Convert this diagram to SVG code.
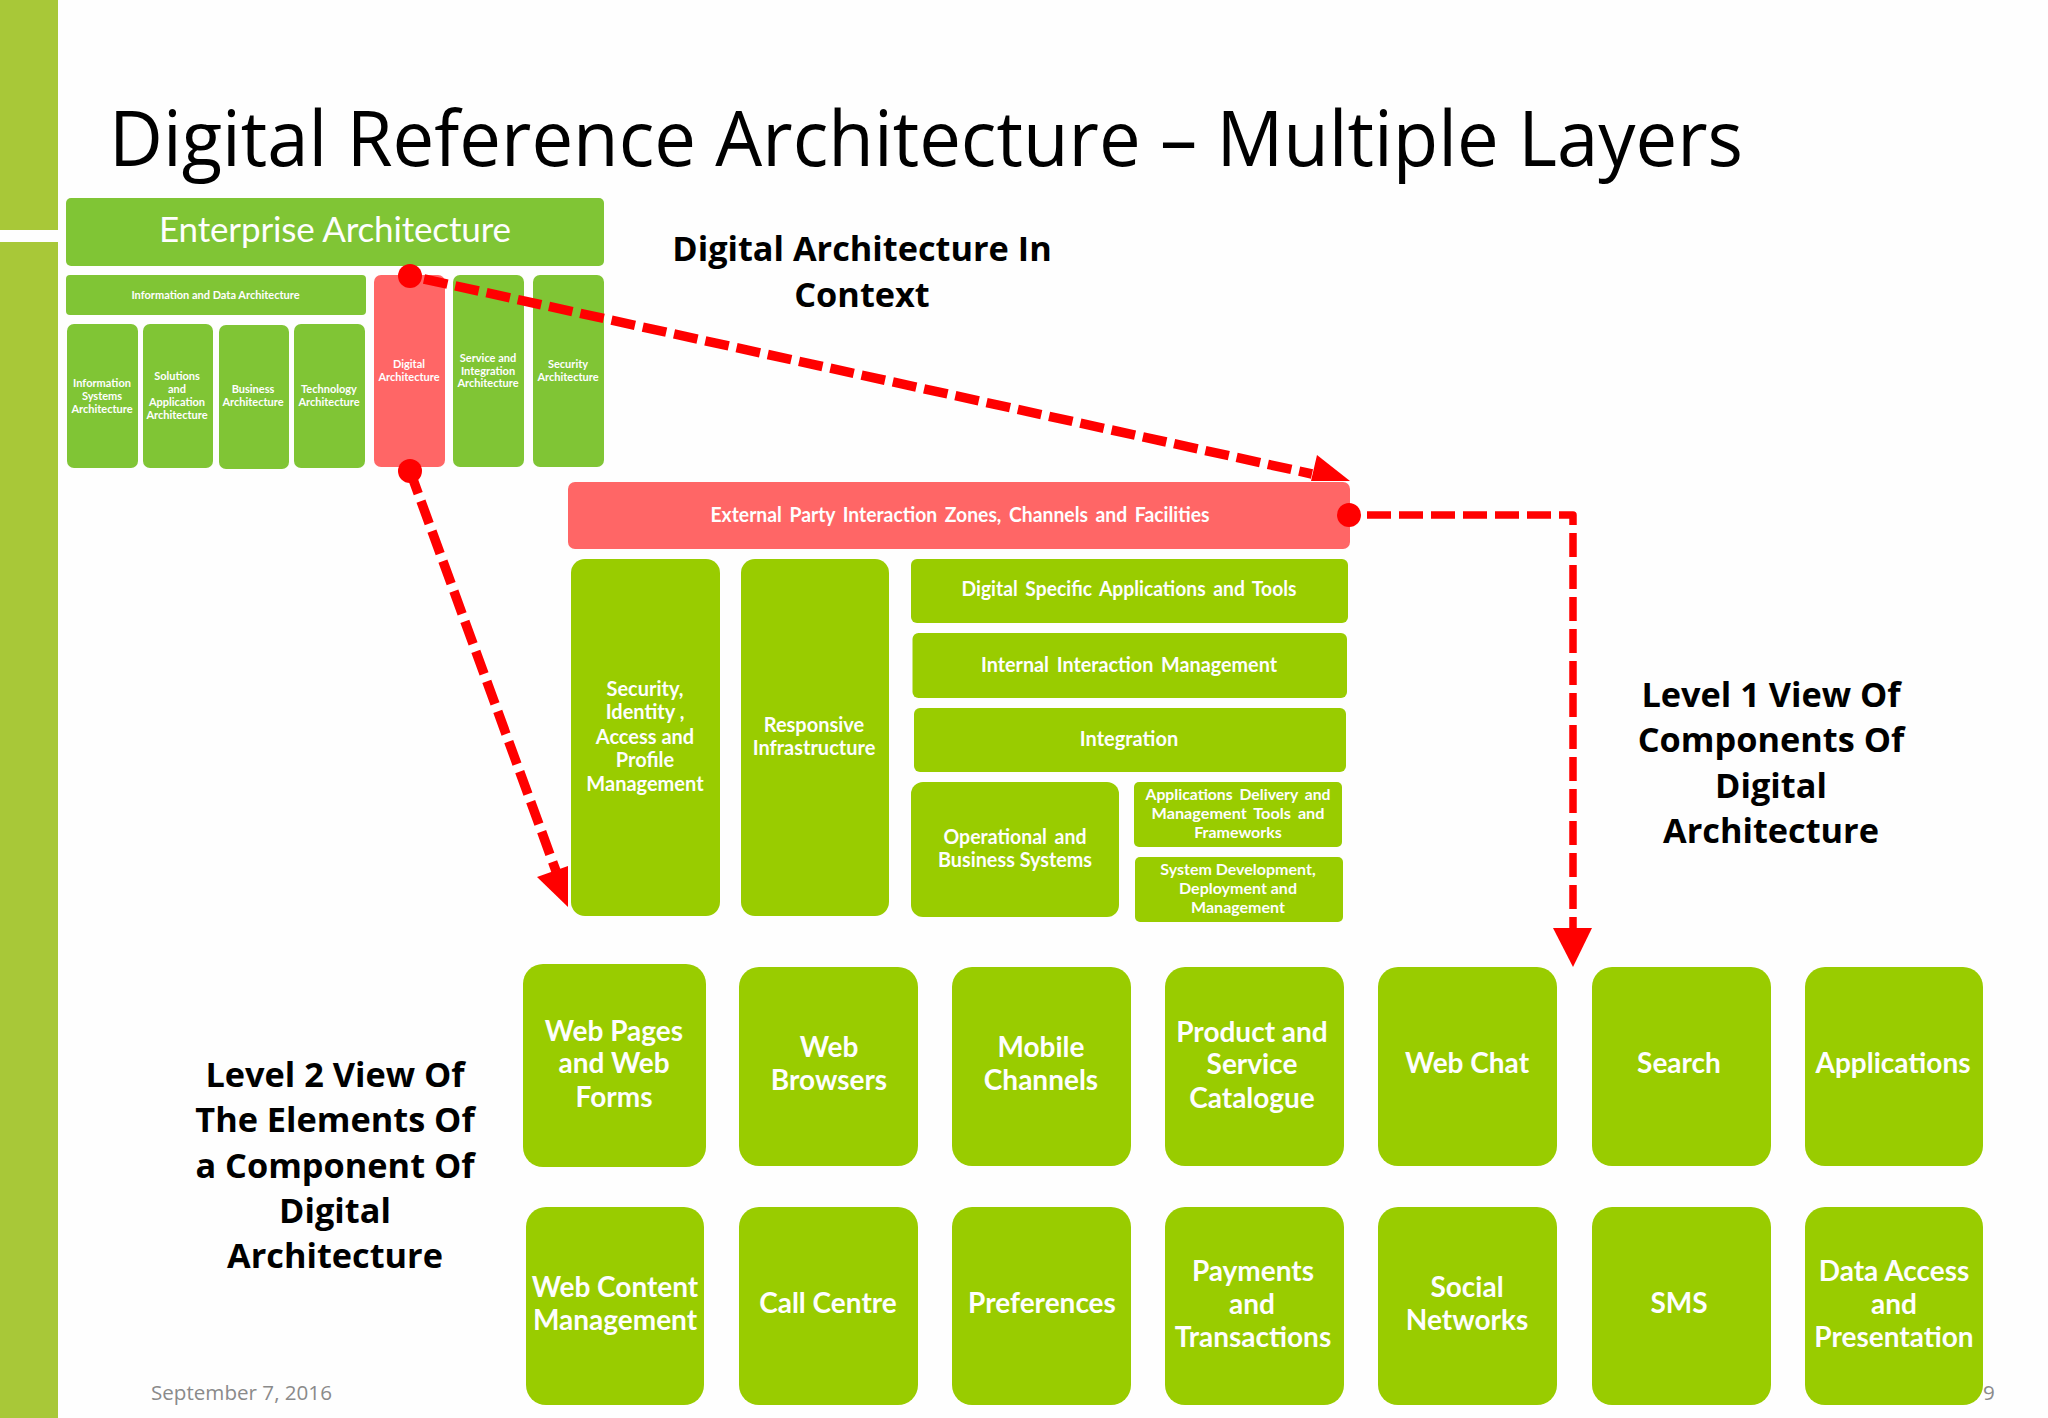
<svg xmlns="http://www.w3.org/2000/svg" width="2048" height="1418" viewBox="0 0 2048 1418">
<style>
.ea{fill:#80C535}.lime{fill:#99CC00}.red{fill:#FF6666}.bar{fill:#A8C838}
text{font-family:"Lato","Liberation Sans",sans-serif;fill:#FEFEFE;text-anchor:middle;font-weight:700}
.s{font-size:11px}.m{font-size:20px}.n{font-size:16px}.b{font-size:28px}
.w{word-spacing:3px}
.h{font-family:"Open Sans","Liberation Sans",sans-serif;fill:#000;font-size:34.300px;font-weight:700}
.dash{fill:none;stroke:#FF0000;stroke-width:7.500;stroke-dasharray:24 8;stroke-linejoin:round}
.diag{stroke-width:9.500}
.head,.dot{fill:#FF0000}
</style>
<rect width="2048" height="1418" fill="#FEFEFE"/>
<g id="sidebar"><rect class="bar" x="0" y="0" width="58" height="230"/><rect class="bar" x="0" y="242" width="58" height="1176"/></g>
<text id="title" x="109" y="166" textLength="1634" lengthAdjust="spacingAndGlyphs" style="font-family:'Open Sans','Liberation Sans',sans-serif;font-size:76px;font-weight:400;fill:#000;text-anchor:start">Digital Reference Architecture – Multiple Layers</text>
<g id="n-enterprise"><rect class="ea" x="66" y="198" width="538" height="68" rx="5"/><text x="335" y="242" style="font-size:35px;font-weight:400" textLength="352">Enterprise Architecture</text></g>
<g id="n-infodata"><rect class="ea" x="66" y="275" width="300" height="40" rx="4"/><text class="s" x="215.500" y="299">Information and Data Architecture</text></g>
<g id="n-infosys"><rect class="ea" x="67" y="324" width="71" height="144" rx="7"/><text class="s" x="102" y="387">Information</text><text class="s" x="102" y="400">Systems</text><text class="s" x="102" y="413">Architecture</text></g>
<g id="n-solutions"><rect class="ea" x="143" y="324" width="70" height="144" rx="7"/><text class="s" x="177" y="380">Solutions</text><text class="s" x="177" y="393">and</text><text class="s" x="177" y="406">Application</text><text class="s" x="177" y="419">Architecture</text></g>
<g id="n-business"><rect class="ea" x="219" y="325" width="70" height="144" rx="7"/><text class="s" x="253" y="393">Business</text><text class="s" x="253" y="406">Architecture</text></g>
<g id="n-technology"><rect class="ea" x="294" y="324" width="71" height="144" rx="7"/><text class="s" x="329" y="393">Technology</text><text class="s" x="329" y="406">Architecture</text></g>
<g id="n-digital"><rect class="red" x="374" y="275" width="71" height="192" rx="7"/><text class="s" x="409" y="368">Digital</text><text class="s" x="409" y="381">Architecture</text></g>
<g id="n-service"><rect class="ea" x="453" y="275" width="71" height="192" rx="7"/><text class="s" x="488" y="362">Service and</text><text class="s" x="488" y="375">Integration</text><text class="s" x="488" y="387">Architecture</text></g>
<g id="n-security-arch"><rect class="ea" x="533" y="275" width="71" height="192" rx="7"/><text class="s" x="568" y="368">Security</text><text class="s" x="568" y="381">Architecture</text></g>
<text class="h" x="862" y="261">Digital Architecture In</text><text class="h" x="862" y="307">Context</text>
<text class="h" x="1771" y="707">Level 1 View Of</text><text class="h" x="1771" y="752">Components Of</text><text class="h" x="1771" y="798">Digital</text><text class="h" x="1771" y="843">Architecture</text>
<text class="h" x="335" y="1087">Level 2 View Of</text><text class="h" x="335" y="1132">The Elements Of</text><text class="h" x="335" y="1178">a Component Of</text><text class="h" x="335" y="1223">Digital</text><text class="h" x="335" y="1268">Architecture</text>
<g id="n-external"><rect class="red" x="568" y="482" width="782" height="67" rx="7"/><text class="m w" x="960" y="522" textLength="499" lengthAdjust="spacingAndGlyphs">External Party Interaction Zones, Channels and Facilities</text></g>
<g id="n-security"><rect class="lime" x="571" y="559" width="149" height="357" rx="14"/><text class="m" x="645" y="696">Security,</text><text class="m" x="645" y="719">Identity ,</text><text class="m" x="645" y="744">Access and</text><text class="m" x="645" y="767">Profile</text><text class="m" x="645" y="791">Management</text></g>
<g id="n-responsive"><rect class="lime" x="741" y="559" width="148" height="357" rx="14"/><text class="m" x="814" y="732">Responsive</text><text class="m" x="814" y="755">Infrastructure</text></g>
<g id="n-specific"><rect class="lime" x="911" y="559" width="437" height="64" rx="6"/><text class="m w" x="1129" y="596" textLength="335" lengthAdjust="spacingAndGlyphs">Digital Specific Applications and Tools</text></g>
<g id="n-internal"><rect class="lime" x="912.500" y="633" width="434.500" height="65" rx="6"/><text class="m w" x="1129" y="672" textLength="296" lengthAdjust="spacingAndGlyphs">Internal Interaction Management</text></g>
<g id="n-integration"><rect class="lime" x="914" y="708" width="432" height="64" rx="6"/><text class="m" x="1129" y="746">Integration</text></g>
<g id="n-operational"><rect class="lime" x="911" y="782" width="208" height="135" rx="12"/><text class="m w" x="1015" y="844" textLength="143" lengthAdjust="spacingAndGlyphs">Operational and</text><text class="m" x="1015" y="867" textLength="154" lengthAdjust="spacingAndGlyphs">Business Systems</text></g>
<g id="n-delivery"><rect class="lime" x="1134" y="782" width="208" height="65" rx="5"/><text class="n w" x="1238" y="800" textLength="185" lengthAdjust="spacingAndGlyphs">Applications Delivery and</text><text class="n w" x="1238" y="819" textLength="173" lengthAdjust="spacingAndGlyphs">Management Tools and</text><text class="n" x="1238" y="838">Frameworks</text></g>
<g id="n-sysdev"><rect class="lime" x="1135" y="857" width="208" height="65" rx="5"/><text class="n" x="1238" y="875">System Development,</text><text class="n" x="1238" y="894">Deployment and</text><text class="n" x="1238" y="913">Management</text></g>
<g id="n-webpages"><rect class="lime" x="523" y="964" width="183" height="203" rx="20"/><text class="b" x="614" y="1041">Web Pages</text><text class="b" x="614" y="1073">and Web</text><text class="b" x="614" y="1107">Forms</text></g>
<g id="n-browsers"><rect class="lime" x="739" y="967" width="179" height="199" rx="20"/><text class="b" x="829" y="1057">Web</text><text class="b" x="829" y="1090">Browsers</text></g>
<g id="n-mobile"><rect class="lime" x="952" y="967" width="179" height="199" rx="20"/><text class="b" x="1041" y="1057">Mobile</text><text class="b" x="1041" y="1090">Channels</text></g>
<g id="n-catalogue"><rect class="lime" x="1165" y="967" width="179" height="199" rx="20"/><text class="b" x="1252" y="1042">Product and</text><text class="b" x="1252" y="1074">Service</text><text class="b" x="1252" y="1108">Catalogue</text></g>
<g id="n-webchat"><rect class="lime" x="1378" y="967" width="179" height="199" rx="20"/><text class="b" x="1467" y="1073">Web Chat</text></g>
<g id="n-search"><rect class="lime" x="1592" y="967" width="179" height="199" rx="20"/><text class="b" x="1679" y="1073">Search</text></g>
<g id="n-applications"><rect class="lime" x="1805" y="967" width="178" height="199" rx="20"/><text class="b" x="1893" y="1073">Applications</text></g>
<g id="n-wcm"><rect class="lime" x="526" y="1207" width="178" height="198" rx="20"/><text class="b" x="615" y="1297">Web Content</text><text class="b" x="615" y="1330">Management</text></g>
<g id="n-call"><rect class="lime" x="739" y="1207" width="179" height="198" rx="20"/><text class="b" x="828" y="1313">Call Centre</text></g>
<g id="n-prefs"><rect class="lime" x="952" y="1207" width="179" height="198" rx="20"/><text class="b" x="1042" y="1313">Preferences</text></g>
<g id="n-payments"><rect class="lime" x="1165" y="1207" width="179" height="198" rx="20"/><text class="b" x="1253" y="1281">Payments</text><text class="b" x="1252" y="1314">and</text><text class="b" x="1253" y="1347">Transactions</text></g>
<g id="n-social"><rect class="lime" x="1378" y="1207" width="179" height="198" rx="20"/><text class="b" x="1467" y="1297">Social</text><text class="b" x="1467" y="1330">Networks</text></g>
<g id="n-sms"><rect class="lime" x="1592" y="1207" width="179" height="198" rx="20"/><text class="b" x="1679" y="1313">SMS</text></g>
<g id="n-access"><rect class="lime" x="1805" y="1207" width="178" height="198" rx="20"/><text class="b" x="1894" y="1281">Data Access</text><text class="b" x="1894" y="1314">and</text><text class="b" x="1894" y="1347">Presentation</text></g>
<text x="151" y="1400" style="font-family:'Open Sans','Liberation Sans',sans-serif;font-size:20.600px;font-weight:400;fill:#8A8A8A;text-anchor:start">September 7, 2016</text>
<text x="1989" y="1400" style="font-family:'Open Sans','Liberation Sans',sans-serif;font-size:20.600px;font-weight:400;fill:#8A8A8A">9</text>
<g id="connectors">
<path class="dash diag" d="M424,279L1312,474"/><polygon class="head" points="1317,455 1350,481 1311,481"/><circle class="dot" cx="410" cy="276" r="12"/>
<path class="dash diag" d="M410,471L556,871"/><polygon class="head" points="537,877 568,866 568,907"/><circle class="dot" cx="410" cy="471" r="12"/>
<path class="dash" d="M1367,515H1573V930"/><polygon class="head" points="1553,928 1592,928 1573,967"/><circle class="dot" cx="1349" cy="515" r="12"/>
</g>
</svg>
